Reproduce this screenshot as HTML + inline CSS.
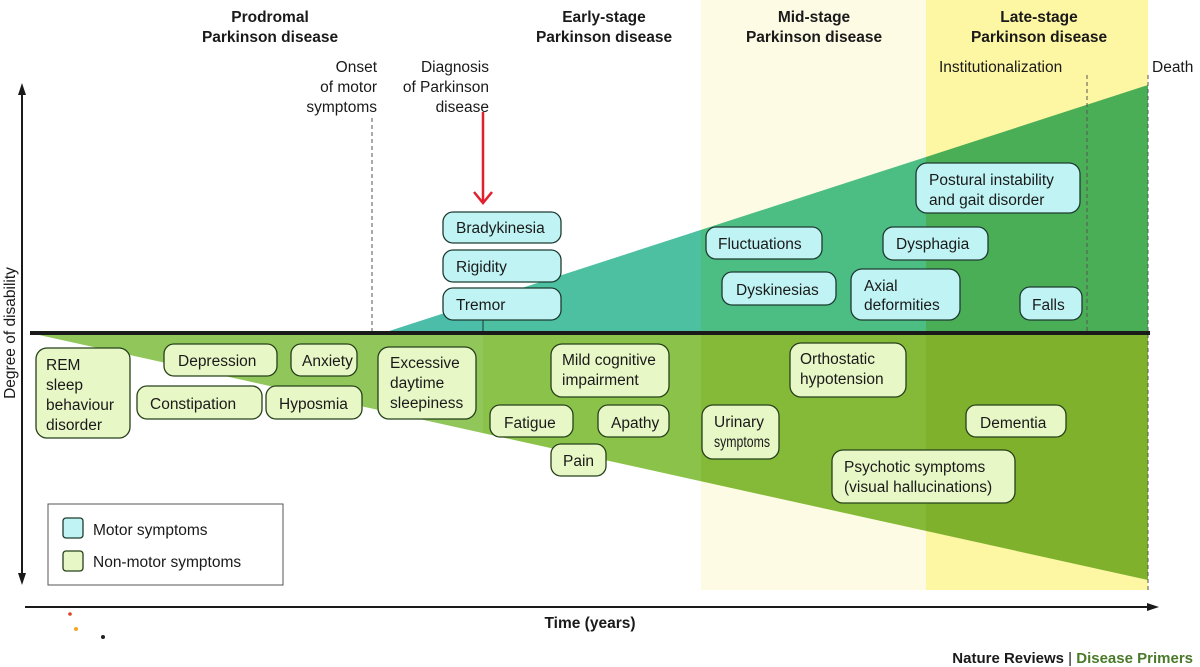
<!DOCTYPE html>
<html><head><meta charset="utf-8"><style>
html,body{margin:0;padding:0;background:#fff;}
svg{display:block;font-family:"Liberation Sans",sans-serif;}
.t{font-size:15.5px;fill:#1a1a1a;}
.b{font-size:15.5px;font-weight:bold;fill:#1a1a1a;}
.m{fill:#c0f4f4;stroke:#1d3a30;stroke-width:1.3;}
.n{fill:#e8f7c6;stroke:#26401a;stroke-width:1.3;}
</style></head><body>
<svg width="1200" height="667" viewBox="0 0 1200 667">
<rect x="701" y="0" width="225" height="590" fill="#fefbe4"/>
<rect x="926" y="0" width="222" height="590" fill="#fdf6a2"/>
<clipPath id="nm"><polygon points="30,333 1148,333 1148,580"/></clipPath>
<g clip-path="url(#nm)">
<rect x="0" y="330" width="483" height="260" fill="#90c65a"/>
<rect x="483" y="330" width="218" height="260" fill="#8bc34a"/>
<rect x="701" y="330" width="225" height="260" fill="#85ba38"/>
<rect x="926" y="330" width="222" height="260" fill="#7fb12d"/>
</g>
<clipPath id="mo"><polygon points="383,333 1148,85 1148,333"/></clipPath>
<g clip-path="url(#mo)">
<rect x="380" y="80" width="103" height="255" fill="#4bbda9"/>
<rect x="483" y="80" width="218" height="255" fill="#4cc0a0"/>
<rect x="701" y="80" width="225" height="255" fill="#4dbe83"/>
<rect x="926" y="80" width="222" height="255" fill="#4aae56"/>
</g>
<g stroke="#555" stroke-width="1" stroke-dasharray="4,3">
<line x1="372" y1="118" x2="372" y2="333"/>
<line x1="1087" y1="75" x2="1087" y2="333"/>
<line x1="1148" y1="75" x2="1148" y2="590"/>
</g>
<line x1="483" y1="320" x2="483" y2="333" stroke="#1d3a30" stroke-width="1"/>
<line x1="30" y1="333" x2="1150" y2="333" stroke="#1a1a1a" stroke-width="4"/>
<line x1="22" y1="90" x2="22" y2="578" stroke="#1a1a1a" stroke-width="2"/>
<polygon points="22,83 18,95 26,95" fill="#1a1a1a"/>
<polygon points="22,585 18,573 26,573" fill="#1a1a1a"/>
<line x1="25" y1="607" x2="1150" y2="607" stroke="#1a1a1a" stroke-width="2"/>
<polygon points="1159,607 1147,603 1147,611" fill="#1a1a1a"/>
<text class="t" transform="translate(15,333) rotate(-90)" text-anchor="middle" font-size="15">Degree of disability</text>
<text class="b" x="590" y="628" text-anchor="middle" font-size="15">Time (years)</text>
<circle cx="70" cy="614" r="1.8" fill="#d42"/>
<circle cx="76" cy="629" r="2" fill="#f5a623"/>
<circle cx="103" cy="637" r="2" fill="#222"/>
<line x1="483" y1="112" x2="483" y2="203" stroke="#e0202e" stroke-width="2.5"/>
<polyline points="474,192 483,203 492,192" fill="none" stroke="#e0202e" stroke-width="2.5"/>
<g class="b" text-anchor="middle">
<text x="270" y="22">Prodromal</text><text x="270" y="42">Parkinson disease</text>
<text x="604" y="22">Early-stage</text><text x="604" y="42">Parkinson disease</text>
<text x="814" y="22">Mid-stage</text><text x="814" y="42">Parkinson disease</text>
<text x="1039" y="22">Late-stage</text><text x="1039" y="42">Parkinson disease</text>
</g>
<g class="t" text-anchor="end">
<text x="377" y="72">Onset</text><text x="377" y="92">of motor</text><text x="377" y="112">symptoms</text>
<text x="489" y="72">Diagnosis</text><text x="489" y="92">of Parkinson</text><text x="489" y="112">disease</text>
</g>
<text class="t" x="939" y="72">Institutionalization</text>
<text class="t" x="1152" y="72">Death</text>
<rect class="m" x="443" y="212" width="118" height="31" rx="10"/><text class="t" x="456" y="233">Bradykinesia</text>
<rect class="m" x="443" y="250" width="118" height="32" rx="10"/><text class="t" x="456" y="272">Rigidity</text>
<rect class="m" x="443" y="288" width="118" height="32" rx="10"/><text class="t" x="456" y="310">Tremor</text>
<rect class="m" x="706" y="227" width="116" height="32" rx="10"/><text class="t" x="718" y="249">Fluctuations</text>
<rect class="m" x="722" y="272" width="114" height="33" rx="10"/><text class="t" x="736" y="295">Dyskinesias</text>
<rect class="m" x="883" y="227" width="105" height="33" rx="10"/><text class="t" x="896" y="249">Dysphagia</text>
<rect class="m" x="916" y="163" width="164" height="50" rx="11"/><text class="t" x="929" y="185">Postural instability</text><text class="t" x="929" y="205">and gait disorder</text>
<rect class="m" x="851" y="269" width="109" height="51" rx="11"/><text class="t" x="864" y="291">Axial</text><text class="t" x="864" y="310">deformities</text>
<rect class="m" x="1020" y="287" width="62" height="33" rx="10"/><text class="t" x="1032" y="310">Falls</text>
<rect class="n" x="36" y="348" width="94" height="90" rx="11"/>
<text class="t" x="46" y="370">REM</text><text class="t" x="46" y="390">sleep</text><text class="t" x="46" y="410">behaviour</text><text class="t" x="46" y="430">disorder</text>
<rect class="n" x="164" y="344" width="113" height="32" rx="10"/><text class="t" x="178" y="366">Depression</text>
<rect class="n" x="291" y="344" width="66" height="32" rx="10"/><text class="t" x="302" y="366">Anxiety</text>
<rect class="n" x="137" y="386" width="125" height="33" rx="10"/><text class="t" x="150" y="409">Constipation</text>
<rect class="n" x="266" y="386" width="96" height="33" rx="10"/><text class="t" x="279" y="409">Hyposmia</text>
<rect class="n" x="378" y="347" width="98" height="72" rx="11"/>
<text class="t" x="390" y="368">Excessive</text><text class="t" x="390" y="388">daytime</text><text class="t" x="390" y="408">sleepiness</text>
<rect class="n" x="551" y="344" width="118" height="53" rx="11"/><text class="t" x="562" y="365">Mild cognitive</text><text class="t" x="562" y="385">impairment</text>
<rect class="n" x="490" y="405" width="83" height="32" rx="10"/><text class="t" x="504" y="428">Fatigue</text>
<rect class="n" x="598" y="405" width="71" height="32" rx="10"/><text class="t" x="611" y="428">Apathy</text>
<rect class="n" x="551" y="444" width="55" height="32" rx="10"/><text class="t" x="563" y="466">Pain</text>
<rect class="n" x="702" y="405" width="77" height="54" rx="11"/><text class="t" x="714" y="427">Urinary</text><text class="t" x="714" y="447" textLength="56" lengthAdjust="spacingAndGlyphs">symptoms</text>
<rect class="n" x="790" y="343" width="116" height="54" rx="11"/><text class="t" x="800" y="364">Orthostatic</text><text class="t" x="800" y="384">hypotension</text>
<rect class="n" x="966" y="405" width="100" height="32" rx="10"/><text class="t" x="980" y="428">Dementia</text>
<rect class="n" x="832" y="450" width="183" height="53" rx="11"/><text class="t" x="844" y="472">Psychotic symptoms</text><text class="t" x="844" y="492">(visual hallucinations)</text>
<rect x="48" y="504" width="235" height="81" fill="#fff" stroke="#555" stroke-width="1"/>
<rect class="m" x="63" y="518" width="20" height="20" rx="3"/><text class="t" x="93" y="535">Motor symptoms</text>
<rect class="n" x="63" y="551" width="20" height="20" rx="3"/><text class="t" x="93" y="567">Non-motor symptoms</text>
<text x="1193" y="663" text-anchor="end" font-size="15" font-weight="bold"><tspan fill="#1a1a1a">Nature Reviews</tspan><tspan fill="#1a1a1a" font-weight="normal"> | </tspan><tspan fill="#4a7a2a">Disease Primers</tspan></text>
</svg>
</body></html>
